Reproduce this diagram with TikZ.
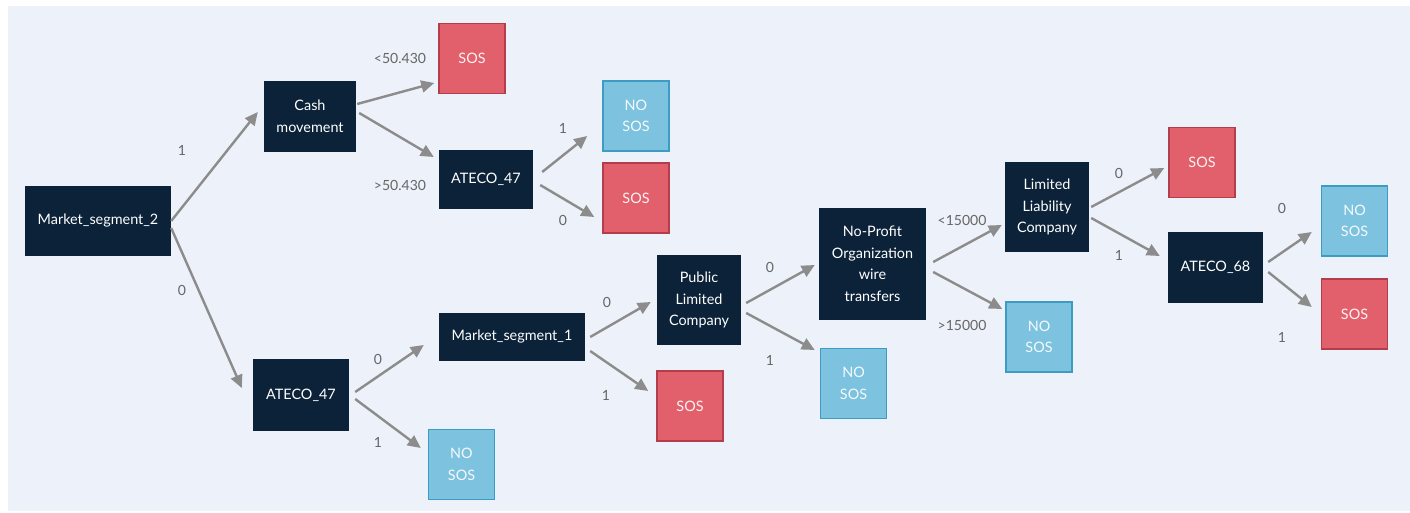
\documentclass[tikz,border=0pt]{standalone}
\usepackage{fontspec}
\setmainfont{Lato}
\usetikzlibrary{arrows.meta,calc}
\definecolor{bgc}{HTML}{EDF1F9}
\definecolor{navy}{HTML}{0C2239}
\definecolor{redf}{HTML}{E2606B}
\definecolor{redb}{HTML}{B23E4B}
\definecolor{bluef}{HTML}{7DC2DE}
\definecolor{blueb}{HTML}{3D9CC3}
\definecolor{edgec}{HTML}{8C8C8C}
\definecolor{labc}{HTML}{666666}
\tikzset{
  base/.style={inner sep=0pt, align=center, font=\fontsize{14.4}{21.5}\selectfont},
  split/.style={base, fill=navy, text=white},
  sosbox/.style={base, fill=redf, draw=redb, line width=1.5pt, text=white!92!redf, minimum width=66pt, minimum height=70pt},
  nosbox/.style={base, fill=bluef, draw=blueb, line width=1.5pt, text=white!92!bluef, minimum width=66pt, minimum height=70pt},
  conn/.style={draw=edgec, line width=2.4pt, -{Triangle[length=13pt,width=12pt]}},
  lab/.style={inner sep=0pt, text=labc, font=\fontsize{14}{16}\selectfont}
}
\newcommand{\edgeconn}[4]{\draw[conn] ($(#1.east)+(#2)$) -- ($(#3.west)+(#4)$);}
\begin{document}
\begin{tikzpicture}[x=1pt,y=-1pt]
\useasboundingbox (0,0) rectangle (1410,513);
\fill[bgc] (8,6) rectangle (1410,511);
% split nodes
\node[split, minimum width=146pt, minimum height=70pt] (ms2) at (98,221) {Market\_segment\_2};
\node[split, minimum width=92pt, minimum height=71pt] (cash) at (310,116.5) {Cash\\movement};
\node[split, minimum width=94pt, minimum height=59pt] (at47a) at (486,179.5) {ATECO\_47};
\node[split, minimum width=96pt, minimum height=72pt] (at47b) at (301,395) {ATECO\_47};
\node[split, minimum width=146pt, minimum height=48pt] (ms1) at (512,337) {Market\_segment\_1};
\node[split, minimum width=84pt, minimum height=90pt] (plc) at (699,300) {Public\\Limited\\Company};
\node[split, minimum width=107pt, minimum height=112pt] (npo) at (872.5,264) {No-Profit\\Organization\\wire\\transfers};
\node[split, minimum width=84pt, minimum height=90pt] (llc) at (1047,207) {Limited\\Liability\\Company};
\node[split, minimum width=95pt, minimum height=71pt] (at68) at (1215.5,267.5) {ATECO\_68};
% leaves
\node[sosbox] (sos1) at (472,58.5) {SOS};
\node[nosbox] (nos1) at (636,116) {NO\\SOS};
\node[sosbox] (sos2) at (636,198) {SOS};
\node[nosbox] (nos2) at (461.5,464.5) {NO\\SOS};
\node[sosbox] (sos3) at (690,406) {SOS};
\node[nosbox] (nos3) at (853.5,383.5) {NO\\SOS};
\node[nosbox] (nos4) at (1039,337) {NO\\SOS};
\node[sosbox] (sos4) at (1202,162.5) {SOS};
\node[nosbox] (nos5) at (1354.5,221) {NO\\SOS};
\node[sosbox] (sos5) at (1354.5,314) {SOS};
% connectors
\edgeconn{ms2}{0,0}{cash}{-6,-4.5}
\edgeconn{ms2}{0,7}{at47b}{-11,-7}
\edgeconn{cash}{1,-12.5}{sos1}{-4,24.5}
\edgeconn{cash}{3,-3.5}{at47a}{-5,-22.5}
\edgeconn{at47a}{9,-7.5}{nos1}{-15,20}
\edgeconn{at47a}{7,5.5}{sos2}{-8,19}
\edgeconn{at47b}{6,-3}{ms1}{-15,8}
\edgeconn{at47b}{6,4}{nos2}{-7,-16.5}
\edgeconn{ms1}{5,0}{plc}{-6,2}
\edgeconn{ms1}{5,14}{sos3}{-8,-15}
\edgeconn{plc}{5,3}{npo}{-4,1}
\edgeconn{plc}{5,13}{nos3}{-5,-33.5}
\edgeconn{npo}{7,-2}{llc}{-3,18}
\edgeconn{npo}{7,8}{nos4}{-3,-28}
\edgeconn{llc}{2,0}{sos4}{-4,5.5}
\edgeconn{llc}{2,11}{at68}{-8,-11.5}
\edgeconn{at68}{5,-5.5}{nos5}{-9,11}
\edgeconn{at68}{5,4.5}{sos5}{-9,-7}
% labels
\node[lab] (l1) at (182,150) {1};
\node[lab] (l2) at (182,290) {0};
\node[lab] (l3) at (400,58) {<50.430};
\node[lab] (l4) at (400,185) {>50.430};
\node[lab] (l5) at (563,128) {1};
\node[lab] (l6) at (563,220) {0};
\node[lab] (l7) at (378,359) {0};
\node[lab] (l8) at (378,442) {1};
\node[lab] (l9) at (607,302) {0};
\node[lab] (l10) at (606,395) {1};
\node[lab] (l11) at (770,267) {0};
\node[lab] (l12) at (770,360) {1};
\node[lab] (l13) at (962,220) {<15000};
\node[lab] (l14) at (962,325) {>15000};
\node[lab] (l15) at (1119,173) {0};
\node[lab] (l16) at (1119,255) {1};
\node[lab] (l17) at (1282,208) {0};
\node[lab] (l18) at (1282,337) {1};
\end{tikzpicture}
\end{document}
